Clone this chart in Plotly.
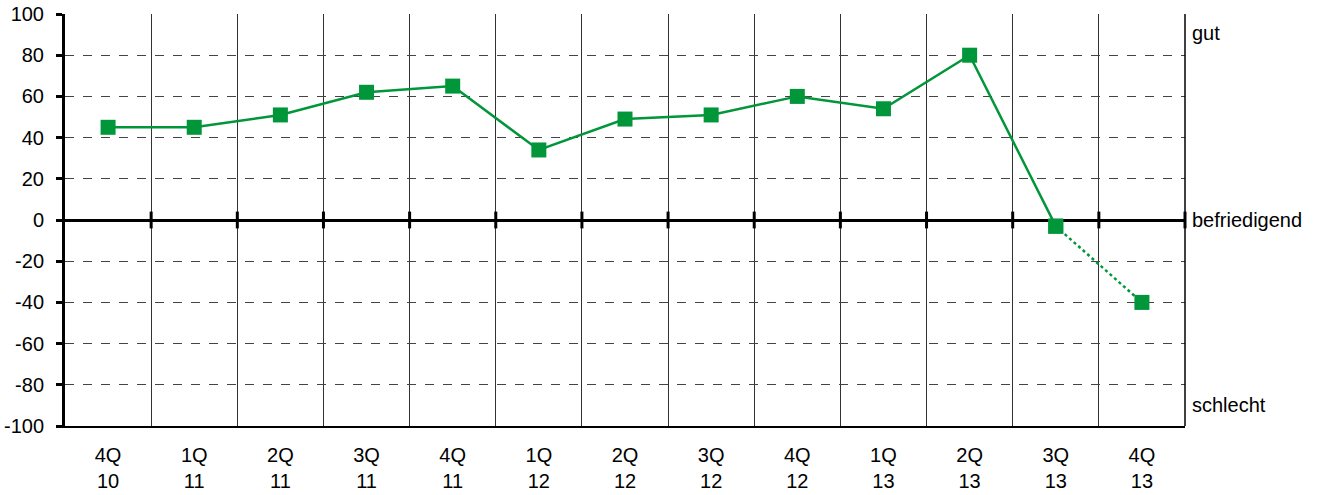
import plotly.graph_objects as go

categories = ["4Q<br>10", "1Q<br>11", "2Q<br>11", "3Q<br>11", "4Q<br>11", "1Q<br>12", "2Q<br>12",
              "3Q<br>12", "4Q<br>12", "1Q<br>13", "2Q<br>13", "3Q<br>13", "4Q<br>13"]
values = [45, 45, 51, 62, 65, 34, 49, 51, 60, 54, 80, -3, -40]
y_ticks = [100, 80, 60, 40, 20, 0, -20, -40, -60, -80, -100]
right_labels = ["gut", "befriedigend", "schlecht"]
right_label_y = [91, 0, -90]

GREEN = "#009639"
FONT = "Liberation Sans, Arial, sans-serif"
n = len(categories)
xs = list(range(n))

fig = go.Figure()
# solid part
fig.add_trace(go.Scatter(x=xs[:-1], y=values[:-1], mode="lines+markers",
                         line=dict(color=GREEN, width=2.5),
                         marker=dict(symbol="square", size=15, color=GREEN),
                         showlegend=False, cliponaxis=False))
# dotted forecast part
fig.add_trace(go.Scatter(x=xs[-2:], y=values[-2:], mode="lines",
                         line=dict(color=GREEN, width=2.5, dash="dot"),
                         showlegend=False))
fig.add_trace(go.Scatter(x=xs[-2:], y=values[-2:], mode="markers",
                         marker=dict(symbol="square", size=15, color=GREEN),
                         showlegend=False, cliponaxis=False))
# tick marks on zero line at category boundaries
bounds = [i + 0.5 for i in range(n - 1)]
zero_ticks = bounds + [n - 0.5]
fig.add_trace(go.Scatter(x=zero_ticks, y=[0] * len(zero_ticks), mode="markers",
                         marker=dict(symbol="line-ns", size=12,
                                     line=dict(color="black", width=3)),
                         showlegend=False, hoverinfo="skip", cliponaxis=False))

fig.update_layout(
    width=1317, height=495,
    margin=dict(l=65, r=132, t=14, b=69, autoexpand=False),
    plot_bgcolor="white", paper_bgcolor="white",
    font=dict(family=FONT, size=20, color="black"),
    xaxis=dict(range=[-0.5, n - 0.5], tickvals=xs, ticktext=categories,
               showgrid=False, zeroline=False, ticks="", automargin=False,
               showline=True, linecolor="black", linewidth=2,
               ticklabelstandoff=10, ticklabeloverflow="allow",
               minor=dict(tickvals=bounds, showgrid=True, gridcolor="#333333", gridwidth=1, ticks="")),
    yaxis=dict(range=[-100, 100], tickvals=y_ticks, ticktext=[str(v) for v in y_ticks],
               showgrid=True, gridcolor="#444444", gridwidth=1, griddash="dash",
               zeroline=True, zerolinecolor="black", zerolinewidth=3, automargin=False,
               showline=True, linecolor="black", linewidth=3,
               ticks="outside", ticklen=6, tickwidth=3, tickcolor="black",
               ticklabelstandoff=8, ticklabeloverflow="allow"),
)
# right border
fig.add_shape(type="line", xref="paper", yref="paper", x0=1, x1=1, y0=0, y1=1,
              line=dict(color="black", width=1.5))
for txt, yv in zip(right_labels, right_label_y):
    fig.add_annotation(x=1, xref="paper", y=yv, yref="y", text=txt, showarrow=False,
                       xanchor="left", xshift=5, font=dict(size=20, family=FONT))

fig.write_html("out.html", config={"displayModeBar": False},
               post_script="document.body.style.margin='0';")
